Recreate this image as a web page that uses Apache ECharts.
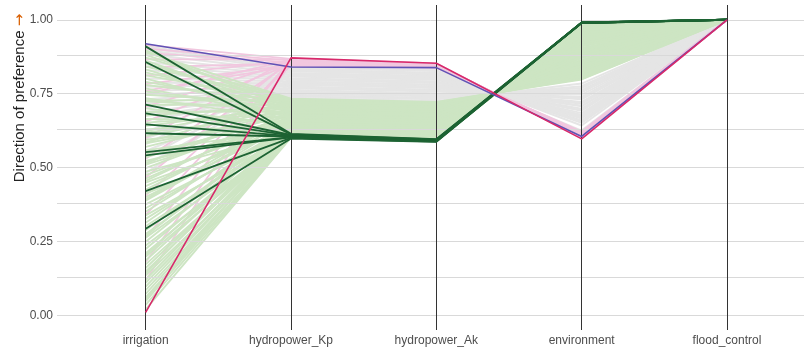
<!DOCTYPE html>
<html>
<head>
<meta charset="utf-8">
<script src="https://cdn.jsdelivr.net/npm/echarts@6/dist/echarts.min.js"></script>
<style>
  html, body { margin: 0; padding: 0; background: #ffffff; }
  #chart { width: 804px; height: 353px; }
</style>
</head>
<body>
<div id="chart"></div>
<script>
// Objectives shown as parallel axes
const dims = ['irrigation', 'hydropower_Kp', 'hydropower_Ak', 'environment', 'flood_control'];
const yTicks = [0, 0.25, 0.5, 0.75, 1];
const gridValues = [0, 0.125, 0.25, 0.375, 0.5, 0.625, 0.75, 0.875, 1];

// Normalised solutions: [irrigation, hydropower_Kp, hydropower_Ak, environment, flood_control]
const greyRows = [
  [0.905, 0.838, 0.827, 0.642, 1.0],
  [0.898, 0.832, 0.821, 0.651, 1.0],
  [0.884, 0.826, 0.815, 0.659, 1.0],
  [0.870, 0.820, 0.810, 0.666, 1.0],
  [0.856, 0.814, 0.803, 0.676, 1.0],
  [0.843, 0.808, 0.797, 0.684, 1.0],
  [0.829, 0.802, 0.791, 0.692, 1.0],
  [0.815, 0.797, 0.786, 0.699, 1.0],
  [0.801, 0.791, 0.780, 0.707, 1.0],
  [0.787, 0.785, 0.774, 0.716, 1.0],
  [0.773, 0.780, 0.769, 0.722, 1.0],
  [0.759, 0.774, 0.763, 0.731, 1.0],
  [0.745, 0.768, 0.757, 0.739, 1.0],
  [0.731, 0.762, 0.751, 0.747, 1.0],
  [0.717, 0.757, 0.746, 0.754, 1.0],
  [0.703, 0.751, 0.740, 0.762, 1.0],
  [0.689, 0.746, 0.735, 0.769, 1.0],
  [0.675, 0.741, 0.731, 0.775, 1.0],
  [0.661, 0.736, 0.725, 0.784, 1.0],
  [0.911, 0.835, 0.830, 0.625, 1.0],
  [0.645, 0.790, 0.779, 0.709, 1.0],
  [0.620, 0.812, 0.801, 0.678, 1.0],
  [0.598, 0.771, 0.760, 0.735, 1.0],
  [0.578, 0.828, 0.817, 0.656, 1.0],
  [0.556, 0.755, 0.744, 0.758, 1.0],
  [0.532, 0.800, 0.789, 0.694, 1.0],
  [0.508, 0.783, 0.772, 0.718, 1.0],
  [0.480, 0.817, 0.806, 0.671, 1.0]
];

const pinkRows = [
  [0.915, 0.868, 0.851, 0.602, 1.0],
  [0.902, 0.862, 0.848, 0.606, 1.0],
  [0.888, 0.856, 0.845, 0.610, 1.0],
  [0.866, 0.866, 0.850, 0.604, 1.0],
  [0.840, 0.852, 0.842, 0.614, 1.0],
  [0.811, 0.860, 0.847, 0.608, 1.0],
  [0.782, 0.847, 0.840, 0.618, 1.0],
  [0.748, 0.864, 0.849, 0.605, 1.0],
  [0.706, 0.858, 0.846, 0.609, 1.0],
  [0.655, 0.850, 0.841, 0.615, 1.0],
  [0.600, 0.869, 0.852, 0.600, 1.0],
  [0.530, 0.855, 0.844, 0.611, 1.0],
  [0.466, 0.863, 0.849, 0.606, 1.0],
  [0.405, 0.845, 0.839, 0.620, 1.0],
  [0.340, 0.859, 0.847, 0.607, 1.0],
  [0.262, 0.867, 0.851, 0.603, 1.0],
  [0.180, 0.853, 0.843, 0.612, 1.0],
  [0.118, 0.861, 0.848, 0.607, 1.0],
  [0.760, 0.843, 0.838, 0.622, 1.0]
];

const greenRows = [
  [0.020, 0.601, 0.590, 0.982, 1.0],
  [0.035, 0.604, 0.593, 0.978, 1.0],
  [0.048, 0.608, 0.597, 0.972, 1.0],
  [0.060, 0.603, 0.592, 0.980, 1.0],
  [0.072, 0.612, 0.601, 0.966, 1.0],
  [0.085, 0.606, 0.595, 0.975, 1.0],
  [0.097, 0.615, 0.604, 0.962, 1.0],
  [0.110, 0.610, 0.599, 0.969, 1.0],
  [0.121, 0.620, 0.609, 0.955, 1.0],
  [0.135, 0.605, 0.594, 0.976, 1.0],
  [0.148, 0.618, 0.607, 0.958, 1.0],
  [0.160, 0.625, 0.614, 0.948, 1.0],
  [0.172, 0.611, 0.600, 0.967, 1.0],
  [0.185, 0.630, 0.619, 0.941, 1.0],
  [0.198, 0.614, 0.603, 0.963, 1.0],
  [0.210, 0.622, 0.611, 0.952, 1.0],
  [0.224, 0.636, 0.625, 0.932, 1.0],
  [0.236, 0.609, 0.598, 0.970, 1.0],
  [0.249, 0.641, 0.630, 0.925, 1.0],
  [0.262, 0.617, 0.606, 0.960, 1.0],
  [0.275, 0.628, 0.617, 0.944, 1.0],
  [0.288, 0.646, 0.635, 0.918, 1.0],
  [0.301, 0.621, 0.610, 0.953, 1.0],
  [0.313, 0.652, 0.641, 0.910, 1.0],
  [0.326, 0.633, 0.622, 0.936, 1.0],
  [0.338, 0.613, 0.602, 0.964, 1.0],
  [0.350, 0.658, 0.647, 0.901, 1.0],
  [0.362, 0.640, 0.629, 0.927, 1.0],
  [0.375, 0.624, 0.613, 0.950, 1.0],
  [0.388, 0.663, 0.652, 0.894, 1.0],
  [0.400, 0.645, 0.634, 0.920, 1.0],
  [0.412, 0.607, 0.596, 0.973, 1.0],
  [0.425, 0.669, 0.658, 0.886, 1.0],
  [0.437, 0.650, 0.639, 0.913, 1.0],
  [0.449, 0.631, 0.620, 0.939, 1.0],
  [0.462, 0.675, 0.664, 0.877, 1.0],
  [0.474, 0.655, 0.644, 0.905, 1.0],
  [0.486, 0.619, 0.608, 0.956, 1.0],
  [0.498, 0.680, 0.669, 0.870, 1.0],
  [0.510, 0.661, 0.650, 0.897, 1.0],
  [0.522, 0.638, 0.627, 0.929, 1.0],
  [0.534, 0.686, 0.675, 0.862, 1.0],
  [0.546, 0.666, 0.655, 0.890, 1.0],
  [0.558, 0.626, 0.615, 0.946, 1.0],
  [0.570, 0.691, 0.680, 0.855, 1.0],
  [0.582, 0.672, 0.661, 0.881, 1.0],
  [0.594, 0.648, 0.637, 0.915, 1.0],
  [0.606, 0.697, 0.686, 0.847, 1.0],
  [0.618, 0.678, 0.667, 0.873, 1.0],
  [0.630, 0.634, 0.623, 0.934, 1.0],
  [0.641, 0.702, 0.691, 0.840, 1.0],
  [0.652, 0.684, 0.673, 0.865, 1.0],
  [0.664, 0.656, 0.645, 0.904, 1.0],
  [0.676, 0.708, 0.697, 0.832, 1.0],
  [0.688, 0.690, 0.679, 0.857, 1.0],
  [0.700, 0.643, 0.632, 0.922, 1.0],
  [0.712, 0.713, 0.702, 0.825, 1.0],
  [0.724, 0.695, 0.684, 0.850, 1.0],
  [0.735, 0.662, 0.651, 0.896, 1.0],
  [0.746, 0.718, 0.707, 0.818, 1.0],
  [0.757, 0.700, 0.689, 0.843, 1.0],
  [0.768, 0.671, 0.660, 0.884, 1.0],
  [0.779, 0.722, 0.711, 0.812, 1.0],
  [0.790, 0.705, 0.694, 0.836, 1.0],
  [0.801, 0.676, 0.665, 0.877, 1.0],
  [0.812, 0.726, 0.715, 0.807, 1.0],
  [0.822, 0.710, 0.699, 0.829, 1.0],
  [0.832, 0.687, 0.676, 0.861, 1.0],
  [0.842, 0.729, 0.718, 0.803, 1.0],
  [0.852, 0.715, 0.704, 0.822, 1.0],
  [0.862, 0.693, 0.682, 0.853, 1.0],
  [0.872, 0.731, 0.720, 0.800, 1.0],
  [0.881, 0.720, 0.709, 0.815, 1.0],
  [0.890, 0.733, 0.722, 0.798, 1.0],
  [0.896, 0.699, 0.688, 0.845, 1.0],
  [0.055, 0.627, 0.616, 0.946, 1.0],
  [0.142, 0.644, 0.633, 0.921, 1.0],
  [0.268, 0.659, 0.648, 0.900, 1.0],
  [0.392, 0.677, 0.666, 0.875, 1.0],
  [0.515, 0.700, 0.689, 0.843, 1.0],
  [0.623, 0.717, 0.706, 0.819, 1.0],
  [0.728, 0.726, 0.715, 0.807, 1.0],
  [0.204, 0.650, 0.639, 0.913, 1.0],
  [0.455, 0.688, 0.677, 0.859, 1.0],
  [0.585, 0.723, 0.712, 0.811, 1.0]
];

const darkGreenRows = [
  [0.910, 0.614, 0.596, 0.990, 1.0],
  [0.857, 0.612, 0.595, 0.991, 1.0],
  [0.713, 0.610, 0.593, 0.989, 1.0],
  [0.683, 0.608, 0.592, 0.990, 1.0],
  [0.646, 0.606, 0.591, 0.990, 1.0],
  [0.616, 0.605, 0.591, 0.991, 1.0],
  [0.552, 0.603, 0.590, 0.990, 1.0],
  [0.541, 0.602, 0.589, 0.989, 1.0],
  [0.420, 0.600, 0.588, 0.990, 1.0],
  [0.293, 0.598, 0.587, 0.990, 1.0]
];

const blueRow = [0.919, 0.840, 0.838, 0.605, 1.0];
const redRow = [0.010, 0.871, 0.853, 0.597, 1.0];

const FONT = '"Liberation Sans", Arial, sans-serif';

function lineSeries(row, color, width, z) {
  return {
    type: 'line',
    data: row.map((v, i) => [i, v]),
    symbol: 'none',
    silent: true,
    z: z,
    lineStyle: { color: color, width: width, opacity: 1 },
    emphasis: { disabled: true },
    animation: false
  };
}

const series = [];

// Panel grid and the vertical objective axes, drawn underneath the data
series.push({
  type: 'line',
  data: [],
  silent: true,
  z: 1,
  markLine: {
    silent: true,
    symbol: 'none',
    animation: false,
    label: { show: false },
    lineStyle: { color: '#d9d9d9', width: 1, type: 'solid' },
    data: gridValues.map(v => ({ yAxis: v }))
  }
});
series.push({
  type: 'line',
  data: [],
  silent: true,
  z: 1,
  markLine: {
    silent: true,
    symbol: 'none',
    animation: false,
    label: { show: false },
    lineStyle: { color: '#333333', width: 1, type: 'solid' },
    data: dims.map((d, i) => ({ xAxis: i }))
  }
});

greyRows.forEach(r => series.push(lineSeries(r, '#e5e5e5', 2, 2)));
pinkRows.forEach(r => series.push(lineSeries(r, '#f1c7df', 1.8, 3)));
greenRows.forEach(r => series.push(lineSeries(r, '#cde5c3', 1.9, 4)));
darkGreenRows.forEach(r => series.push(lineSeries(r, '#1d6333', 1.8, 5)));
series.push(lineSeries(blueRow, '#5f52b5', 1.6, 6));
series.push(lineSeries(redRow, '#d8286a', 1.6, 7));

const chart = echarts.init(document.getElementById('chart'), null, { renderer: 'canvas' });
chart.setOption({
  animation: false,
  backgroundColor: '#ffffff',
  grid: { left: 57, right: 0, top: 5, bottom: 23 },
  xAxis: {
    type: 'value',
    min: -0.61,
    max: 4.53,
    axisLine: { show: false },
    axisTick: { show: false },
    splitLine: { show: false },
    axisLabel: {
      customValues: [0, 1, 2, 3, 4],
      formatter: v => dims[Math.round(v)],
      color: '#4d4d4d',
      fontFamily: FONT,
      fontSize: 12,
      margin: 5
    }
  },
  yAxis: {
    type: 'value',
    min: -0.05,
    max: 1.05,
    axisLine: { show: false },
    axisTick: { show: false },
    splitLine: { show: false },
    axisLabel: {
      customValues: yTicks,
      formatter: v => v.toFixed(2),
      color: '#4d4d4d',
      fontFamily: FONT,
      fontSize: 12,
      margin: 4
    }
  },
  graphic: [{
    type: 'text',
    x: 20,
    y: 98,
    rotation: Math.PI / 2,
    silent: true,
    style: {
      text: 'Direction of preference {a|→}',
      fill: '#222222',
      font: '15px ' + FONT,
      align: 'center',
      verticalAlign: 'middle',
      rich: {
        a: { fill: '#d95f02', font: '15px "DejaVu Sans", sans-serif' }
      }
    }
  }],
  series: series
});
</script>
</body>
</html>
